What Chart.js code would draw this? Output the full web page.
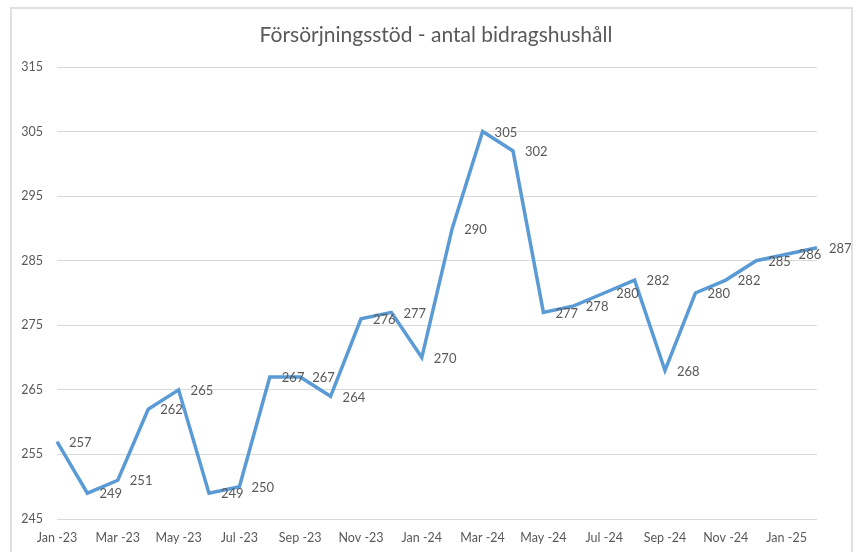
<!DOCTYPE html>
<html><head><meta charset="utf-8">
<script src="https://cdn.jsdelivr.net/npm/chart.js@4.4.0/dist/chart.umd.min.js"></script>
<style>
html,body{margin:0;padding:0;background:#fff;}
#wrap{position:relative;width:856px;height:552px;overflow:hidden;}
#frame{position:absolute;left:10px;top:7px;width:843px;height:570px;border:2px solid #e0e0e0;box-sizing:border-box;pointer-events:none;}
canvas{position:absolute;left:0;top:0;}
</style></head>
<body>
<div id="wrap"><canvas id="c" width="856" height="552"></canvas><div id="frame"></div></div>
<script>
const titleText = "Försörjningsstöd - antal bidragshushåll";
const categories = ["Jan -23","Feb -23","Mar -23","Apr -23","May -23","Jun -23","Jul -23","Aug -23","Sep -23","Oct -23","Nov -23","Dec -23",
  "Jan -24","Feb -24","Mar -24","Apr -24","May -24","Jun -24","Jul -24","Aug -24","Sep -24","Oct -24","Nov -24","Dec -24",
  "Jan -25","Feb -25"];
const values = [257,249,251,262,265,249,250,267,267,264,276,277,270,290,305,302,277,278,280,282,268,280,282,285,286,287];
const yTicks = [245,255,265,275,285,295,305,315];

const FONT = "Lato, 'Open Sans', sans-serif";
const TXT = "#595959";

const labelPlugin = {
  id: 'valueLabels',
  afterDatasetsDraw(chart) {
    const ctx = chart.ctx;
    const meta = chart.getDatasetMeta(0);
    ctx.save();
    ctx.font = "13px " + FONT;
    ctx.fillStyle = TXT;
    ctx.textAlign = 'left';
    ctx.textBaseline = 'middle';
    meta.data.forEach((pt, i) => {
      ctx.fillText(String(values[i]), pt.x + 12, pt.y + 1);
    });
    ctx.restore();
  }
};
const titlePlugin = {
  id: 'customTitle',
  afterDraw(chart) {
    const ctx = chart.ctx;
    ctx.save();
    ctx.font = "21px " + FONT;
    ctx.fillStyle = TXT;
    ctx.textAlign = 'center';
    ctx.textBaseline = 'middle';
    ctx.fillText(titleText, 436, 35);
    ctx.restore();
  }
};

new Chart(document.getElementById('c'), {
  type: 'line',
  data: {
    labels: categories,
    datasets: [{
      data: values,
      borderColor: '#5b9bd5',
      borderWidth: 3.5,
      pointRadius: 0,
      tension: 0,
      fill: false
    }]
  },
  options: {
    responsive: false,
    animation: false,
    devicePixelRatio: 1,
    layout: { padding: { top: 67, right: 39, left: 0, bottom: 0 } },
    plugins: { legend: { display: false }, tooltip: { enabled: false }, title: { display: false } },
    scales: {
      x: {
        offset: false,
        grid: { display: false, drawTicks: false },
        border: { display: false },
        afterFit(s) { s.height = 33; },
        ticks: {
          autoSkip: false, maxRotation: 0, minRotation: 0,
          padding: 11,
          color: TXT,
          font: { family: FONT, size: 12.5 },
          callback(v, i) { return i % 2 === 0 ? categories[i] : ''; }
        }
      },
      y: {
        min: 245, max: 315,
        afterBuildTicks(s) { s.ticks = yTicks.map(v => ({ value: v })); },
        afterFit(s) { s.width = 57; },
        grid: { color: '#d9d9d9', lineWidth: 1, drawTicks: false },
        border: { display: false },
        ticks: {
          padding: 14,
          color: TXT,
          font: { family: FONT, size: 12.5 }
        }
      }
    }
  },
  plugins: [labelPlugin, titlePlugin]
});
</script>
</body></html>
